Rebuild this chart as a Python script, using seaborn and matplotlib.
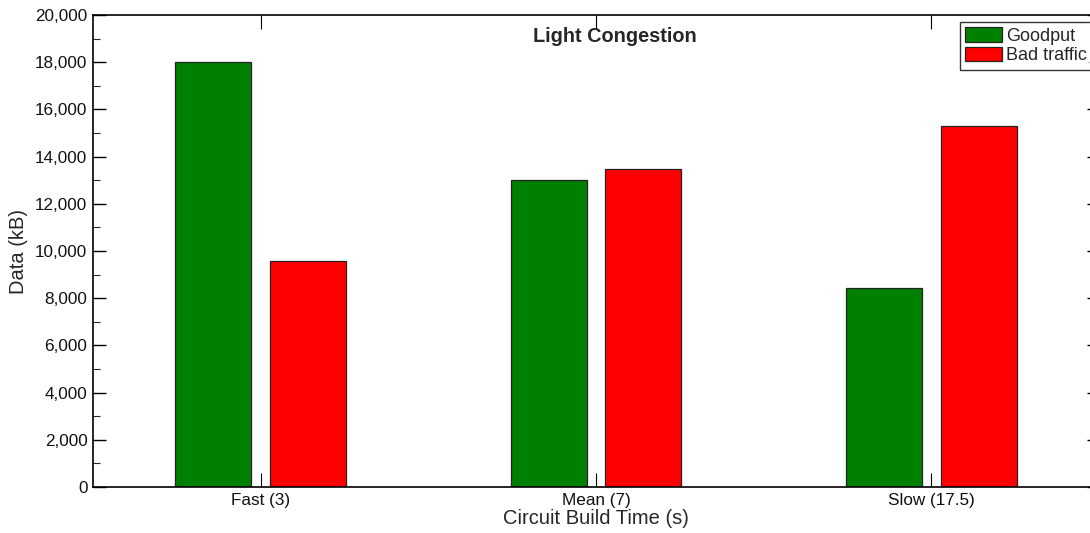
import matplotlib
matplotlib.use("Agg")
import matplotlib.pyplot as plt
from matplotlib.ticker import MultipleLocator, FuncFormatter
from matplotlib.patches import Patch
import seaborn as sns
import pandas as pd

categories = ["Fast (3)", "Mean (7)", "Slow (17.5)"]
goodput = [18000, 13000, 8420]
bad_traffic = [9570, 13470, 15280]
series_names = ["Goodput", "Bad traffic"]
series_colors = ["#008000", "#ff0000"]

df = pd.DataFrame({
    "category": categories * 2,
    "series": [series_names[0]] * 3 + [series_names[1]] * 3,
    "value": goodput + bad_traffic,
})

sns.set_theme(style="white")
plt.rcParams["font.family"] = ["Liberation Sans", "DejaVu Sans"]

W, H = 1090, 533
fig = plt.figure(figsize=(W / 100, H / 100), dpi=100)
# axes extends a little past the right edge of the canvas
left, right, top, bottom = 93, 1099, 15, 487
ax = fig.add_axes([left / W, 1 - bottom / H, (right - left) / W, (bottom - top) / H])

sns.barplot(data=df, x="category", y="value", hue="series", order=categories,
            hue_order=series_names, palette=series_colors, width=0.566, gap=0.2,
            edgecolor="#222222", linewidth=0.9, saturation=1, ax=ax, legend=False)

ax.set_xlim(-0.5, 2.5)
ax.set_ylim(0, 20000)
ax.yaxis.set_major_locator(MultipleLocator(2000))
ax.yaxis.set_minor_locator(MultipleLocator(1000))
ax.yaxis.set_major_formatter(FuncFormatter(lambda v, p: f"{int(v):,}"))

for s in ax.spines.values():
    s.set_visible(True)
    s.set_color("black")
    s.set_linewidth(1.2)

ax.tick_params(axis="y", which="major", direction="in", length=9, width=1,
               left=True, right=True, labelsize=12.3, colors="black", pad=4)
ax.tick_params(axis="y", which="minor", direction="in", length=5, width=0.8,
               left=True, right=True)
ax.tick_params(axis="x", which="major", direction="in", length=10, width=0.8,
               bottom=True, top=True, labelsize=12.3, colors="black", pad=4)
for lbl in ax.get_yticklabels() + ax.get_xticklabels():
    lbl.set_color("#111111")

ax.set_xlabel("Circuit Build Time (s)", fontsize=14.5)
ax.set_ylabel("Data (kB)", fontsize=14.5)
ax.xaxis.label.set_va("center")
ax.yaxis.label.set_va("center")
ax.xaxis.set_label_coords(0.5, -(519 - bottom) / (bottom - top))
ax.yaxis.set_label_coords((18 - left) / (right - left), 0.5)

ax.text((614.5 - left) / (right - left), 1 - 21 / (bottom - top), "Light Congestion",
        transform=ax.transAxes, ha="center", va="center", fontsize=14.3,
        fontweight="bold")

handles = [Patch(facecolor=c, edgecolor="#222222", linewidth=0.9) for c in series_colors]
leg = fig.legend(handles, series_names, loc="upper left",
                 bbox_to_anchor=(960 / W, 1 - 22 / H), frameon=True, fancybox=False,
                 edgecolor="black", fontsize=13, handlelength=2.0, handleheight=0.85,
                 handletextpad=0.25, labelspacing=0.12, borderpad=0.3,
                 borderaxespad=0)
leg.get_frame().set_linewidth(1.0)

fig.savefig("out.png", dpi=100)
